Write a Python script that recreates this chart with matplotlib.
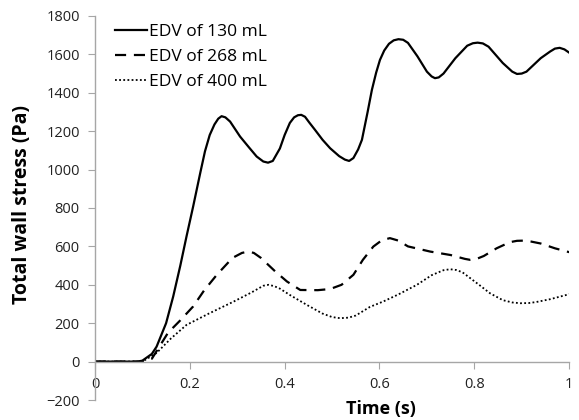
import matplotlib
matplotlib.use('Agg')
import matplotlib.pyplot as plt

# Values
t_130 = [0, 0.05, 0.09, 0.10, 0.12, 0.13, 0.15, 0.165, 0.18, 0.193, 0.207, 0.222, 0.232, 0.242,
         0.252, 0.26, 0.267, 0.275, 0.285, 0.306, 0.325, 0.341, 0.355, 0.365, 0.375, 0.39,
         0.40, 0.411, 0.42, 0.428, 0.435, 0.443, 0.452, 0.464, 0.48, 0.496, 0.515, 0.527,
         0.536, 0.545, 0.555, 0.563, 0.575, 0.584, 0.593, 0.601, 0.61, 0.62, 0.63, 0.64,
         0.65, 0.66, 0.68, 0.70, 0.71, 0.717, 0.725, 0.735, 0.76, 0.785, 0.797, 0.807,
         0.818, 0.83, 0.86, 0.88, 0.89, 0.90, 0.91, 0.94, 0.96, 0.97, 0.98, 0.99, 1.0]
s_130 = [0, 0, 0, 5, 40, 78, 200, 339, 500, 651, 807, 982, 1095, 1180,
         1235, 1265, 1278, 1272, 1250, 1172, 1115, 1068, 1042, 1036, 1045, 1110,
         1180, 1243, 1272, 1283, 1285, 1275, 1245, 1207, 1155, 1111, 1070, 1052,
         1045, 1060, 1105, 1155, 1300, 1415, 1505, 1571, 1620, 1655, 1673, 1679,
         1676, 1660, 1590, 1510, 1485, 1476, 1480, 1500, 1580, 1645, 1658, 1661,
         1657, 1640, 1555, 1510, 1498, 1500, 1510, 1580, 1615, 1630, 1634, 1626, 1609]

t_268 = [0, 0.1, 0.12, 0.154, 0.18, 0.207, 0.23, 0.257, 0.29, 0.31, 0.323, 0.335, 0.35, 0.38,
         0.405, 0.433, 0.47, 0.496, 0.52, 0.545, 0.565, 0.587, 0.605, 0.622, 0.64, 0.66,
         0.707, 0.75, 0.78, 0.791, 0.805, 0.82, 0.847, 0.875, 0.89, 0.904, 0.92, 0.94,
         0.97, 1.0]
s_268 = [0, 0, 15, 150, 215, 287, 370, 452, 540, 566, 573, 566, 540, 470,
         417, 373, 372, 378, 400, 452, 530, 599, 632, 643, 630, 600,
         573, 555, 535, 530, 535, 550, 590, 622, 629, 630, 625, 615,
         590, 570]

t_400 = [0, 0.1, 0.13, 0.16, 0.193, 0.24, 0.292, 0.33, 0.355, 0.366, 0.378, 0.39, 0.411, 0.447,
         0.48, 0.50, 0.517, 0.535, 0.55, 0.58, 0.608, 0.64, 0.679, 0.71, 0.735, 0.749,
         0.762, 0.775, 0.81, 0.833, 0.86, 0.88, 0.897, 0.915, 0.93, 0.96, 1.0]
s_400 = [0, 0, 45, 120, 191, 250, 312, 360, 395, 400, 393, 380, 347, 295,
         250, 232, 226, 229, 240, 285, 313, 350, 400, 450, 476, 481,
         477, 465, 400, 356, 320, 308, 304, 305, 310, 325, 351]

labels = ['EDV of 130 mL', 'EDV of 268 mL', 'EDV of 400 mL']

plt.rcParams['font.family'] = ['Open Sans', 'DejaVu Sans']

fig = plt.figure(figsize=(5.79, 4.2), dpi=100)
ax = fig.add_axes([0.164, 0.0476, 0.819, 0.9144])

ax.plot(t_130, s_130, color='black', lw=1.6, linestyle='-', label=labels[0])
ax.plot(t_268, s_268, color='black', lw=1.6, linestyle=(0, (5, 3.5)), label=labels[1])
ax.plot(t_400, s_400, color='black', lw=1.3, linestyle=(0, (1, 1.3)), label=labels[2])

ax.set_xlim(0, 1)
ax.set_ylim(-200, 1800)
ax.set_xticks([0, 0.2, 0.4, 0.6, 0.8, 1.0])
ax.set_xticklabels(['0', '0.2', '0.4', '0.6', '0.8', '1'])
ax.set_yticks(range(-200, 1801, 200))

for side in ['top', 'right']:
    ax.spines[side].set_visible(False)
ax.spines['bottom'].set_position(('data', 0))
for side in ['left', 'bottom']:
    ax.spines[side].set_color('#a6a6a6')
    ax.spines[side].set_linewidth(1.0)
ax.tick_params(axis='both', colors='#a6a6a6', labelcolor='#222222', labelsize=10.5,
               direction='out', length=5)
ax.tick_params(axis='x', pad=6)
ax.tick_params(axis='y', pad=6)

fig.text(22 / 579, 1 - 205 / 420, 'Total wall stress (Pa)', fontsize=14, fontweight='bold',
         rotation=90, ha='center', va='center')
fig.text(381 / 579, 1 - 409 / 420, 'Time (s)', fontsize=13, fontweight='bold',
         ha='center', va='center')

ax.legend(loc='upper left', frameon=False, fontsize=12.5, handlelength=1.85,
          handletextpad=0.1, labelspacing=0.5, bbox_to_anchor=(0.01, 1.02))

fig.savefig('out.png', dpi=100)
